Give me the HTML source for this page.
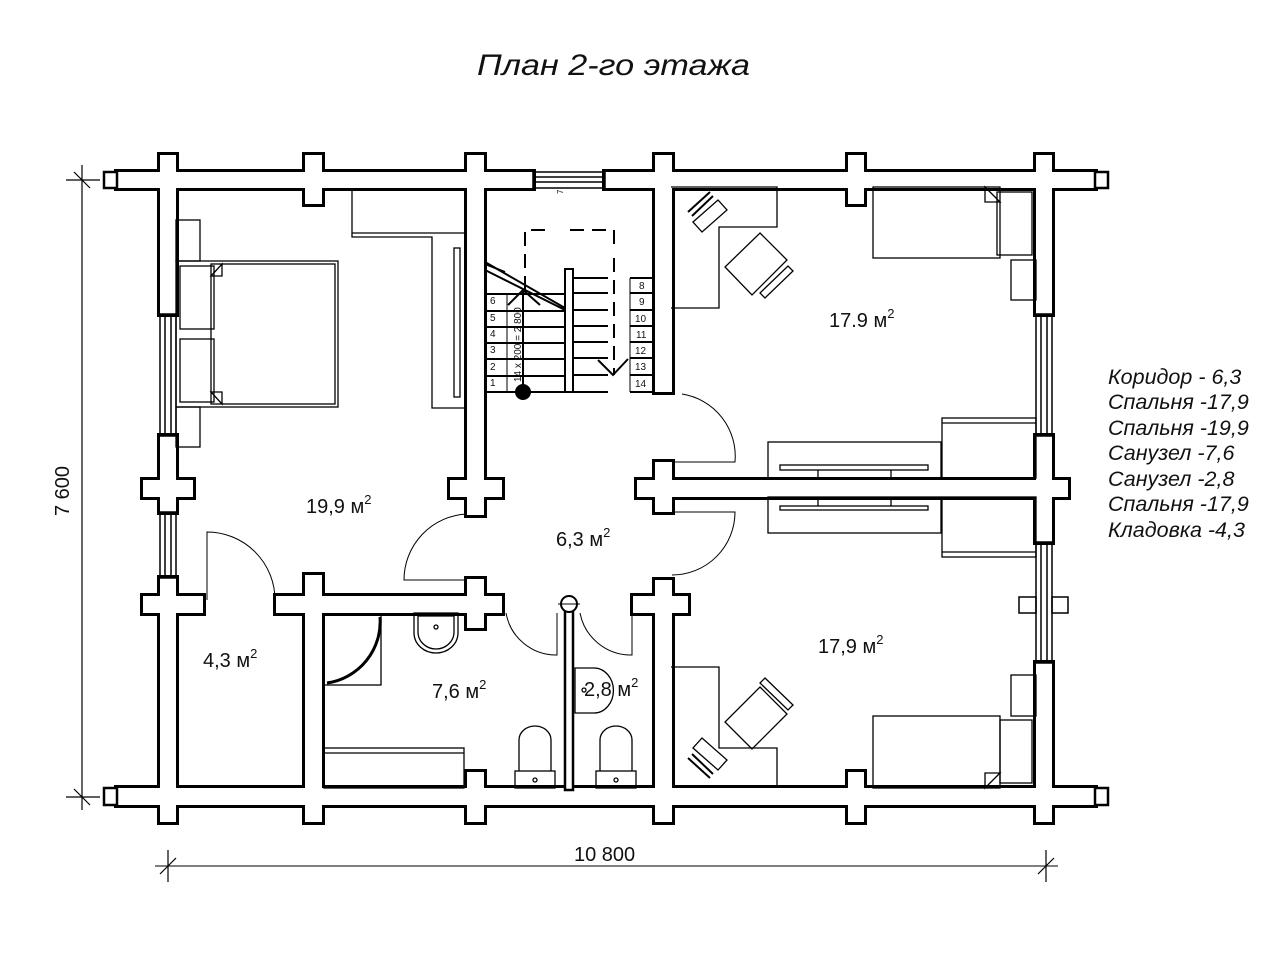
<!DOCTYPE html>
<html><head><meta charset="utf-8"><style>
html,body{margin:0;padding:0;background:#fff}
svg{display:block}
text{font-family:"Liberation Sans",Arial,sans-serif;fill:#111}
</style></head><body>
<svg width="1280" height="960" viewBox="0 0 1280 960" xmlns="http://www.w3.org/2000/svg">
<defs>
<g id="w">
  <rect x="117" y="172" width="416" height="16"/>
  <rect x="605" y="172" width="490" height="16"/>
  <rect x="117" y="788" width="978" height="17"/>
  <rect x="160" y="155" width="16" height="33"/>
  <rect x="305" y="155" width="17" height="49"/>
  <rect x="467" y="155" width="17" height="33"/>
  <rect x="655" y="155" width="17" height="33"/>
  <rect x="848" y="155" width="16" height="49"/>
  <rect x="1036" y="155" width="16" height="33"/>
  <rect x="160" y="788" width="16" height="34"/>
  <rect x="305" y="788" width="17" height="34"/>
  <rect x="467" y="772" width="17" height="50"/>
  <rect x="655" y="788" width="17" height="34"/>
  <rect x="848" y="772" width="16" height="50"/>
  <rect x="1036" y="788" width="16" height="34"/>
  <rect x="160" y="155" width="16" height="159"/>
  <rect x="160" y="436" width="16" height="76"/>
  <rect x="160" y="578" width="16" height="244"/>
  <rect x="143" y="480" width="50" height="17"/>
  <rect x="143" y="596" width="60" height="17"/>
  <rect x="276" y="596" width="226" height="17"/>
  <rect x="305" y="575" width="17" height="247"/>
  <rect x="467" y="579" width="17" height="49"/>
  <rect x="467" y="155" width="17" height="360"/>
  <rect x="450" y="480" width="52" height="17"/>
  <rect x="655" y="155" width="17" height="237"/>
  <rect x="655" y="462" width="17" height="50"/>
  <rect x="637" y="480" width="431" height="17"/>
  <rect x="655" y="580" width="17" height="242"/>
  <rect x="633" y="596" width="55" height="17"/>
  <rect x="1036" y="155" width="16" height="159"/>
  <rect x="1036" y="436" width="16" height="106"/>
  <rect x="1036" y="663" width="16" height="159"/>
</g>
</defs>

<text x="477" y="75" font-size="30" font-style="italic" textLength="273" lengthAdjust="spacingAndGlyphs">План 2-го этажа</text>

<use href="#w" fill="#000" stroke="#000" stroke-width="6" stroke-linejoin="miter"/>
<use href="#w" fill="#fff"/>

<g fill="#fff" stroke="#000" stroke-width="2.5">
  <rect x="104" y="172" width="13" height="16"/>
  <rect x="1095" y="172" width="13" height="16"/>
  <rect x="104" y="788" width="13" height="17"/>
  <rect x="1095" y="788" width="13" height="17"/>
</g>

<g fill="none" stroke="#000" stroke-width="1.5">
  <rect x="533" y="172" width="72" height="16"/>
  <line x1="536" y1="177" x2="602" y2="177"/><line x1="536" y1="182" x2="602" y2="182"/>
  <rect x="160" y="314" width="16" height="122"/>
  <line x1="165" y1="314" x2="165" y2="436"/><line x1="171" y1="314" x2="171" y2="436"/>
  <rect x="160" y="512" width="16" height="66"/>
  <line x1="165" y1="512" x2="165" y2="578"/><line x1="171" y1="512" x2="171" y2="578"/>
  <rect x="1036" y="314" width="16" height="122"/>
  <line x1="1041" y1="314" x2="1041" y2="436"/><line x1="1047" y1="314" x2="1047" y2="436"/>
  <rect x="1036" y="542" width="16" height="121"/>
  <line x1="1041" y1="542" x2="1041" y2="663"/><line x1="1047" y1="542" x2="1047" y2="663"/>
  <rect x="1019" y="597" width="17" height="16"/>
  <rect x="1052" y="597" width="16" height="16"/>
</g>

<rect x="565" y="604" width="8" height="186" fill="#fff" stroke="#000" stroke-width="2.5"/>
<circle cx="569" cy="604" r="8" fill="#fff" stroke="#000" stroke-width="2"/>
<line x1="558" y1="604" x2="580" y2="604" stroke="#000" stroke-width="1"/>

<g fill="none" stroke="#000" stroke-width="1">
  <path d="M207 600 L207 532 A68 68 0 0 1 275 600"/>
  <path d="M467 514 A66 66 0 0 0 404 580 L467 580"/>
  <path d="M506 613 A51 51 0 0 0 557 655 L557 613"/>
  <path d="M580 613 A52 52 0 0 0 632 655 L632 613"/>
  <path d="M682 394 A63 63 0 0 1 735 462 L672 462"/>
  <path d="M672 512 L735 512 A63 63 0 0 1 672 575"/>
</g>

<g stroke="#000" stroke-width="2" fill="none">
  <line x1="484" y1="294" x2="565" y2="294"/>
  <line x1="484" y1="311" x2="565" y2="311"/>
  <line x1="484" y1="327" x2="565" y2="327"/>
  <line x1="484" y1="343" x2="565" y2="343"/>
  <line x1="484" y1="359" x2="565" y2="359"/>
  <line x1="484" y1="376" x2="565" y2="376"/>
  <line x1="484" y1="392" x2="565" y2="392"/>
  <line x1="507" y1="294" x2="507" y2="392" stroke-width="1"/>
  <line x1="523" y1="290" x2="523" y2="392"/>
  <rect x="565" y="269" width="8" height="123"/>
  <line x1="573" y1="278" x2="608" y2="278"/><line x1="630" y1="278" x2="655" y2="278"/>
  <line x1="573" y1="293" x2="608" y2="293"/><line x1="630" y1="293" x2="655" y2="293"/>
  <line x1="573" y1="310" x2="608" y2="310"/><line x1="630" y1="310" x2="655" y2="310"/>
  <line x1="573" y1="326" x2="608" y2="326"/><line x1="630" y1="326" x2="655" y2="326"/>
  <line x1="573" y1="342" x2="608" y2="342"/><line x1="630" y1="342" x2="655" y2="342"/>
  <line x1="573" y1="358" x2="608" y2="358"/><line x1="630" y1="358" x2="655" y2="358"/>
  <line x1="573" y1="375" x2="608" y2="375"/><line x1="630" y1="375" x2="655" y2="375"/>
  <line x1="573" y1="392" x2="608" y2="392"/><line x1="630" y1="392" x2="655" y2="392"/>
  <line x1="630" y1="278" x2="630" y2="392" stroke-width="1"/>
  <path d="M525 290 L525 230 L548 230 M570 230 L614 230 L614 250" stroke-dasharray="14 8"/>
  <path d="M614 258 L614 375" stroke-dasharray="14 8"/>
  <path d="M598 360 L613 375 L628 359"/>
  <path d="M485 262 L565 308 M485 270 L565 310"/>
  <path d="M485 264 L505 272"/>
  <path d="M508 305 L523 290 L540 305"/>
</g>
<g font-size="10">
  <text x="490" y="304">6</text><text x="490" y="321">5</text><text x="490" y="337">4</text>
  <text x="490" y="353">3</text><text x="490" y="370">2</text><text x="490" y="386">1</text>
  <text x="639" y="289">8</text><text x="639" y="305">9</text><text x="635" y="322">10</text>
  <text x="636" y="338">11</text><text x="635" y="354">12</text><text x="635" y="370">13</text><text x="635" y="387">14</text>
</g>
<text transform="translate(521,382) rotate(-90)" font-size="10">14 x 200 = 2 800</text>
<text transform="translate(563,194) rotate(-90)" font-size="8">7</text>
<circle cx="523" cy="392" r="8" fill="#000"/>

<g fill="none" stroke="#000" stroke-width="1.3">
  <rect x="176" y="220" width="24" height="41"/>
  <rect x="176" y="407" width="24" height="40"/>
  <rect x="176" y="261" width="162" height="146"/>
  <rect x="211" y="264" width="124" height="140"/>
  <rect x="180" y="266" width="34" height="63"/>
  <rect x="180" y="339" width="34" height="63"/>
  <path d="M211 276 L222 264 L222 276 Z M211 392 L222 404 L222 392 Z"/>
  <path d="M352 188 L352 237 L432 237 L432 408 L467 408"/>
  <line x1="352" y1="233" x2="467" y2="233"/>
  <rect x="454" y="248" width="6" height="149"/>
</g>

<g fill="none" stroke="#000" stroke-width="1.3">
  <path d="M671 187 L777 187 L777 227 L719 227 L719 308 L671 308"/>
  <path d="M760 233 L787 260 L752 295 L725 267 Z"/>
  <path d="M760 293 L788 266 L793 271 L765 298 Z"/>
  <path d="M693 222 L718 200 L727 210 L702 232 Z"/>
  <path d="M688 212 L710 192 M692 216 L713 196" stroke-width="2"/>
  <rect x="873" y="187" width="127" height="71"/>
  <rect x="997" y="192" width="35" height="63"/>
  <path d="M985 187 L1000 202 L985 202 Z"/>
  <rect x="1011" y="260" width="25" height="40"/>
  <rect x="768" y="442" width="173" height="36"/>
  <rect x="780" y="465" width="148" height="5"/>
  <line x1="818" y1="470" x2="818" y2="478"/><line x1="891" y1="470" x2="891" y2="478"/>
  <rect x="942" y="418" width="94" height="60"/>
  <line x1="942" y1="423" x2="1036" y2="423"/>
</g>

<g fill="none" stroke="#000" stroke-width="1.3">
  <rect x="768" y="497" width="173" height="36"/>
  <rect x="780" y="506" width="148" height="4"/>
  <line x1="818" y1="497" x2="818" y2="506"/><line x1="891" y1="497" x2="891" y2="506"/>
  <rect x="942" y="497" width="94" height="60"/>
  <line x1="942" y1="552" x2="1036" y2="552"/>
  <path d="M671 667 L719 667 L719 748 L777 748 L777 788"/>
  <path d="M760 687 L787 714 L752 749 L725 722 Z"/>
  <path d="M765 678 L793 705 L788 710 L760 683 Z"/>
  <path d="M693 748 L718 770 L727 760 L702 738 Z"/>
  <path d="M688 758 L710 778 M692 754 L713 774" stroke-width="2"/>
  <rect x="873" y="716" width="127" height="72"/>
  <rect x="1000" y="720" width="32" height="63"/>
  <path d="M985 788 L1000 773 L985 773 Z"/>
  <rect x="1011" y="675" width="25" height="41"/>
</g>

<g fill="none" stroke="#000" stroke-width="1.3">
  <rect x="324" y="615" width="57" height="70"/>
  <path d="M380 617 A62 62 0 0 1 327 683" stroke-width="3"/>
  <path d="M414 613 L458 613 L458 633 A22 20 0 0 1 414 633 Z"/>
  <path d="M418 616 L454 616 L454 632 A18 17 0 0 1 418 632 Z"/>
  <circle cx="436" cy="627" r="2"/>
  <rect x="324" y="748" width="140" height="40"/>
  <line x1="324" y1="753" x2="464" y2="753"/>
  <rect x="515" y="771" width="40" height="17"/>
  <path d="M519 771 L519 740 A16 14 0 0 1 551 740 L551 771"/>
  <circle cx="535" cy="780" r="2"/>
  <rect x="596" y="771" width="40" height="17"/>
  <path d="M600 771 L600 740 A16 14 0 0 1 632 740 L632 771"/>
  <circle cx="616" cy="780" r="2"/>
  <path d="M575 668 L594 668 A19 22 0 0 1 594 713 L575 713 Z"/>
  <circle cx="584" cy="690" r="2"/>
</g>

<g font-size="20">
  <text x="306" y="513">19,9 м<tspan font-size="13" dy="-9">2</tspan></text>
  <text x="556" y="546">6,3 м<tspan font-size="13" dy="-9">2</tspan></text>
  <text x="203" y="667">4,3 м<tspan font-size="13" dy="-9">2</tspan></text>
  <text x="432" y="698">7,6 м<tspan font-size="13" dy="-9">2</tspan></text>
  <text x="584" y="696">2,8 м<tspan font-size="13" dy="-9">2</tspan></text>
  <text x="829" y="327">17.9 м<tspan font-size="13" dy="-9">2</tspan></text>
  <text x="818" y="653">17,9 м<tspan font-size="13" dy="-9">2</tspan></text>
</g>

<g font-size="21.5" font-style="italic">
  <text x="1108" y="384">Коридор - 6,3</text>
  <text x="1108" y="409">Спальня -17,9</text>
  <text x="1108" y="435">Спальня -19,9</text>
  <text x="1108" y="460">Санузел -7,6</text>
  <text x="1108" y="486">Санузел -2,8</text>
  <text x="1108" y="511">Спальня -17,9</text>
  <text x="1108" y="537">Кладовка -4,3</text>
</g>

<g stroke="#000" stroke-width="1.2" fill="none">
  <line x1="82" y1="165" x2="82" y2="810"/>
  <line x1="66" y1="180" x2="100" y2="180"/>
  <line x1="74" y1="172" x2="90" y2="188"/>
  <line x1="66" y1="797" x2="100" y2="797"/>
  <line x1="74" y1="789" x2="90" y2="805"/>
  <line x1="155" y1="866" x2="1058" y2="866" stroke="#333"/>
  <line x1="168" y1="850" x2="168" y2="882"/>
  <line x1="160" y1="874" x2="176" y2="858"/>
  <line x1="1046" y1="850" x2="1046" y2="882"/>
  <line x1="1038" y1="874" x2="1054" y2="858"/>
</g>
<text transform="translate(69,516) rotate(-90)" font-size="20">7 600</text>
<text x="574" y="861" font-size="20">10 800</text>
</svg>
</body></html>
